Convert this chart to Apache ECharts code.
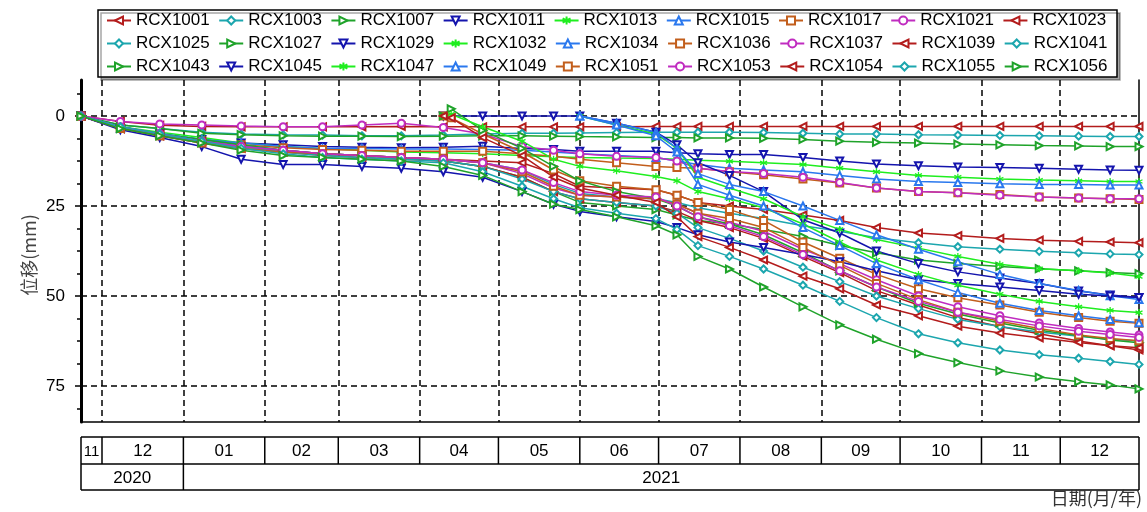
<!DOCTYPE html>
<html><head><meta charset="utf-8">
<script src="https://cdn.jsdelivr.net/npm/echarts@6/dist/echarts.min.js"></script>
<style>html,body{margin:0;padding:0;background:#fff}#c{width:1147px;height:512px}</style>
</head><body><div id="c"></div>
<script>
const _ = null;
const dates = ['2020-11-23','2020-12-08','2020-12-23','2021-01-08','2021-01-23','2021-02-08','2021-02-23','2021-03-10','2021-03-25','2021-04-10',
  '2021-04-13','2021-04-25','2021-05-10','2021-05-22','2021-06-01','2021-06-15','2021-06-30','2021-07-08','2021-07-16','2021-07-28',
  '2021-08-10','2021-08-25','2021-09-08','2021-09-22','2021-10-08','2021-10-23','2021-11-08','2021-11-23','2021-12-08','2021-12-20',
  '2021-12-31'];

const RCX1001 = [0,1.5,2.6,2.9,3,3,3,3,2.9,3, _,3,3,3,3,3,2.9,2.9,2.9,2.9, 2.9,2.9,2.9,2.9,2.9,2.9,2.9,2.9,2.9,2.9, 2.9];
const RCX1003 = [0,2.5,3.5,4.5,5,5.2,5.3,5.5,5.5,5.3, _,5,4.8,4.8,4.7,4.6,4.5,4.5,4.5,4.5, 4.6,4.8,5,5,5.2,5.3,5.4,5.5,5.6,5.7, 5.7];
const RCX1007 = [0,2.5,3.5,4.8,5.2,5.5,5.6,5.6,5.7,5.6, _,5.5,5.5,5.6,5.7,5.8,6,6,6.1,6.1, 6.2,6.5,7,7.3,7.5,7.8,8,8.2,8.3,8.5, 8.5];
const RCX1011 = [0,3.5,5,6.5,7.5,8,8.5,8.7,8.8,8.7, _,8.4,9,9.3,9.8,9.8,9.8,10.2,10.5,10.7, 10.7,11.5,12.5,13.3,13.8,14.2,14.3,14.5,14.8,15, 15.1];
const RCX1013 = [0,3,4.5,6,7.5,8.5,9,9.5,10,10.2, _,10.5,11,11.3,11.5,11.7,11.8,12,12.3,12.6, 13,13.5,14.5,15.5,16.5,17,17.5,17.8,18,18.2, 18.2];
const RCX1015 = [0,3.5,5,6.5,7.5,8.5,9,9,9.2,9.2, _,9.3,9.5,10,10.5,11,11.5,12.5,13.5,14.5, 15,15.5,16.5,17.5,18.2,18.5,18.8,19,19,19.2, 19.2];
const RCX1017 = [0,3.5,5.5,7,8,8.8,9.3,9.5,9.8,9.8, _,9.8,10.5,11.2,12,13,14,14.3,14.5,15.5, 16.3,17.5,18.6,20,21,21.3,21.8,22.5,22.8,23, 23.2];
const RCX1021 = [0,1.5,2.2,2.5,2.8,3,3,2.5,2,3.2, _,5,8.5,9.5,10.5,11.2,11.5,12.5,14.5,15.4, 16,17,18.5,20,21,21.3,22,22.5,22.8,23, 23];
const RCX1023 = [0,3.5,5,7,8.5,9.5,10.5,11,11.5,12, _,12.5,13,16,19.5,20,20.5,22,24,25, 26,27.5,29,31,32.5,33.2,34,34.5,34.8,35, 35.2];
const RCX1025 = [0,3,4.8,6.5,8,9.5,10.5,11,11.5,12, _,13,15,19,21.5,22.5,23,24,25.5,27, 28.5,30.5,32,33.8,35.2,36.3,37,37.6,38,38.3, 38.5];
const RCX1027 = [0,3,5,6.5,8,9.5,10.5,11,11.5,12.5, _,14,17,21,24,25,26,27.5,29,30, 31.5,33.5,36,38,40,41,41.8,42.4,43,43.5, 43.8];
const RCX1029 = [_,_,_,_,_,_,_,_,_,0, _,0,0,0,0,2,4.5,8,13,16.5, 21,28.8,32.5,37.5,41,43.3,45,46.5,48.6,49.7, 50.4];
const RCX1032 = [_,_,_,_,_,_,_,_,_,_, _,_,_,_,0,2.5,5,9,17,20, 23,28,31.5,34.3,36.7,39,41.2,42.4,43,43.6, 44.6];
const RCX1034 = [_,_,_,_,_,_,_,_,_,_, _,_,_,_,0,2,4.5,9,16,19, 21,25,29,33,37,40.5,44,46.5,48.5,49.9, 51];
const RCX1036 = [_,_,_,_,_,_,_,_,_,0, 0.5,5,10,15,18,19.5,20.5,22,24,26, 29,35,39.5,44,48,50.5,52.5,54.5,56,57, 57.6];
const RCX1037 = [0,3.5,5,7,8.5,9.5,10.5,11,11.5,12, _,13,16,20,22,22.5,23,24.5,27,29.5, 32,37,41,45.5,50,53,55.5,57.5,59,60, 60.8];
const RCX1039 = [0,3.5,5.5,7.5,9,10,11,11.5,12,12.5, _,14,17,21,23,24,25,26.5,29,31, 34,39,43.5,48.5,52.5,56,58.5,60.5,62.5,63.8, 65];
const RCX1041 = [0,3,5,7,8.5,10,11,11.5,12,12.5, _,14,17.5,21,23,24,25,27,31,34, 37.5,42,46,50,53.5,56.5,58.5,60,61.2,62, 62.5];
const RCX1043 = [_,_,_,_,_,_,_,_,_,0, -2,4,9,14,18,21,23,25,28,30, 33,38,43,47.5,52,55,57.5,59.5,61,62.2, 63];
const RCX1045 = [0,3.8,6,8.5,12,13.5,13.5,14,14.5,15.5, _,17,21,24.5,26.5,28,29.3,31,33,35, 36.5,38.5,40.5,43,45.5,46.5,47.5,48.5,49.5,50, 50.4];
const RCX1047 = [_,_,_,_,_,_,_,_,_,0, -0.5,3,7,12,14,15.2,16.8,18,21,23, 25.5,30,35,40,44,47,49.5,51.5,53,54, 54.6];
const RCX1049 = [_,_,_,_,_,_,_,_,_,_, _,_,_,_,0,2.5,5.5,10,19,22, 25,31,36,41,45.5,49,52,54,55.5,56.5, 57.4];
const RCX1051 = [0,3.5,5.5,7.5,9,10,10.5,11,11.5,12, _,13,15.5,19.5,22,22.5,23,24.5,27,28.5, 31,36.5,41.5,46.5,51,54.5,57,59,60.8,61.8, 62.4];
const RCX1053 = [0,3,5,7,8.5,9.5,10.5,11,11.5,12, _,13,15,18.5,21,22,22.5,25,28,30.5, 33.5,38.5,43,47.5,51.5,54.5,56.5,58.3,59.8,60.7, 61.5];
const RCX1054 = [_,_,_,_,_,_,_,_,_,0, 0.5,6,11,17,20,22,24,28,33.5,36.5, 40,44.5,48,52.5,55.5,58.4,60.3,61.6,62.9,63.8, 64.4];
const RCX1055 = [0,3,5,7,9,10.5,11.5,12,12.5,13, _,15.5,19.5,23,25.5,27,28.5,31.5,36,39, 42.5,47,51.5,56,60.5,63,65,66.3,67.3,68.2, 69];
const RCX1056 = [0,3.5,5.5,7.5,9.5,11,11.5,12,12.5,14, _,16.5,21,24.5,26,28,30.5,33,39,42.5, 47.5,53,58,62,66,68.5,70.8,72.5,73.8,74.7, 75.8];

const seriesNames = ['RCX1001','RCX1003','RCX1007','RCX1011','RCX1013','RCX1015','RCX1017','RCX1021','RCX1023',
  'RCX1025','RCX1027','RCX1029','RCX1032','RCX1034','RCX1036','RCX1037','RCX1039','RCX1041',
  'RCX1043','RCX1045','RCX1047','RCX1049','RCX1051','RCX1053','RCX1054','RCX1055','RCX1056'];
const seriesValues = [RCX1001,RCX1003,RCX1007,RCX1011,RCX1013,RCX1015,RCX1017,RCX1021,RCX1023,
  RCX1025,RCX1027,RCX1029,RCX1032,RCX1034,RCX1036,RCX1037,RCX1039,RCX1041,
  RCX1043,RCX1045,RCX1047,RCX1049,RCX1051,RCX1053,RCX1054,RCX1055,RCX1056];

const yTickValues = [0, 25, 50, 75];
const yMinorTickValues = [-6.25, 6.25, 12.5, 18.75, 31.25, 37.5, 43.75, 56.25, 62.5, 68.75, 81.25];
const yMin = -10, yMax = 85;
const xStart = '2020-11-23', xEnd = '2021-12-31';
const monthBoundaries = ['2020-12-01','2021-01-01','2021-02-01','2021-03-01','2021-04-01','2021-05-01','2021-06-01',
  '2021-07-01','2021-08-01','2021-09-01','2021-10-01','2021-11-01','2021-12-01'];
const monthLabels = ['11','12','01','02','03','04','05','06','07','08','09','10','11','12'];
const yearLabels = ['2020','2021'];
const yearBoundary = '2021-01-01';

const ASTERISK = 'path://M5,0L5,10M0.7,2.5L9.3,7.5M0.7,7.5L9.3,2.5';
const styles = [
  {color:'#b31c1c', symbol:'emptyTriangle', rotate:90},
  {color:'#1ca6ae', symbol:'emptyDiamond', rotate:0},
  {color:'#1fa32a', symbol:'emptyTriangle', rotate:-90},
  {color:'#1414ad', symbol:'emptyTriangle', rotate:180},
  {color:'#1fee1f', symbol:ASTERISK, rotate:0},
  {color:'#2a78ee', symbol:'emptyTriangle', rotate:0},
  {color:'#c25e1c', symbol:'emptyRect', rotate:0},
  {color:'#c02cc0', symbol:'emptyCircle', rotate:0}
];

function ts(s){ const p = s.split('-').map(Number); return new Date(p[0], p[1]-1, p[2]).getTime(); }

const FONT = 'Liberation Sans, Arial, sans-serif';
const chart = echarts.init(document.getElementById('c'), null, {renderer:'canvas'});

const series = seriesNames.map((name, i) => {
  const st = styles[i % 8];
  return {
    name, type:'line', z:2,
    data: dates.map((d, j) => [ts(d), seriesValues[i][j]]),
    connectNulls:true, showSymbol:true,
    symbol: st.symbol, symbolRotate: st.rotate, symbolSize: 7,
    lineStyle:{color:st.color, width:1.5},
    itemStyle:{color:st.color, borderColor:st.color, borderWidth:1.3},
    emphasis:{disabled:true}
  };
});
series.push({
  type:'line', data:[], silent:true, z:1,
  markLine:{
    silent:true, z:1, symbol:['none','none'], label:{show:false}, animation:false,
    lineStyle:{color:'#000', type:[6,4], width:1.5},
    emphasis:{disabled:true},
    data: monthBoundaries.map(d => ({xAxis: ts(d)})).concat(yTickValues.map(v => ({yAxis: v})))
  }
});

const legends = [0,1,2].map(r => ({
  data: seriesNames.slice(r*9, r*9+9),
  left: 106, top: 12 + r*23, orient:'horizontal', padding:0,
  itemWidth:24, itemHeight:10, itemGap:8.5, selectedMode:false,
  textStyle:{fontSize:17, color:'#000', fontFamily:FONT}
}));

chart.setOption({
  animation:false,
  backgroundColor:'#fff',
  legend: legends,
  grid:{left:81, right:8, top:80, bottom:90, containLabel:false},
  xAxis:{
    type:'time', min: ts(xStart), max: ts(xEnd),
    axisLine:{show:true, onZero:false, lineStyle:{color:'#000', width:1.5}},
    axisTick:{show:false}, axisLabel:{show:false}, splitLine:{show:false}
  },
  yAxis:[
    {type:'value', inverse:true, min:yMin, max:yMax, position:'left',
     axisLine:{show:true, onZero:false, lineStyle:{color:'#000', width:3}},
     axisTick:{show:true, length:6, customValues:yTickValues, lineStyle:{color:'#000', width:1.5}},
     axisLabel:{customValues:yTickValues, fontSize:17, color:'#000', margin:16, fontFamily:FONT},
     splitLine:{show:false}},
    {type:'value', inverse:true, min:yMin, max:yMax, position:'left',
     axisLine:{show:false},
     axisTick:{show:true, length:4, customValues:yMinorTickValues, lineStyle:{color:'#000', width:1.5}},
     axisLabel:{show:false}, splitLine:{show:false}},
    {type:'value', inverse:true, min:yMin, max:yMax, position:'right',
     axisLine:{show:true, onZero:false, lineStyle:{color:'#000', width:1.5}},
     axisTick:{show:false}, axisLabel:{show:false}, splitLine:{show:false}}
  ],
  series
});

// bottom date table, positioned through the x axis scale
const X = s => chart.convertToPixel({xAxisIndex:0}, ts(s));
const bounds = [xStart].concat(monthBoundaries).concat([xEnd]).map(X);
const xL = bounds[0], xR = bounds[bounds.length-1];
const r0 = 437, r1 = 464, r2 = 490;
const lineSt = {stroke:'#000', lineWidth:1.5};
const g = [];
g.push({type:'rect', z:0, shape:{x:98, y:10, width:1019, height:67},
  style:{fill:'#fff', stroke:'#000', lineWidth:1.5, shadowColor:'rgba(0,0,0,0.35)', shadowOffsetX:3, shadowOffsetY:3, shadowBlur:0}});
[r0, r1, r2].forEach(y => g.push({type:'line', shape:{x1:xL, y1:y, x2:xR, y2:y}, style:lineSt}));
g.push({type:'line', shape:{x1:xL, y1:r0, x2:xL, y2:r2}, style:lineSt});
g.push({type:'line', shape:{x1:xR, y1:r0, x2:xR, y2:r2}, style:lineSt});
bounds.slice(1, -1).forEach(x => g.push({type:'line', shape:{x1:x, y1:r0, x2:x, y2:r1}, style:lineSt}));
const xy = X(yearBoundary);
g.push({type:'line', shape:{x1:xy, y1:r1, x2:xy, y2:r2}, style:lineSt});
monthLabels.forEach((t, i) => {
  const cx = (bounds[i] + bounds[i+1]) / 2;
  g.push({type:'text', x:cx, y:(r0+r1)/2 + 1, style:{text:t, fontSize: i === 0 ? 15 : 17, fontFamily:FONT, fill:'#000', align:'center', verticalAlign:'middle'}});
});
g.push({type:'text', x:(xL+xy)/2, y:(r1+r2)/2 + 1, style:{text:yearLabels[0], fontSize:17, fontFamily:FONT, fill:'#000', align:'center', verticalAlign:'middle'}});
g.push({type:'text', x:(xy+xR)/2, y:(r1+r2)/2 + 1, style:{text:yearLabels[1], fontSize:17, fontFamily:FONT, fill:'#000', align:'center', verticalAlign:'middle'}});
g.push({type:'text', x:1142, y:498, style:{text:'日期(月/年)', fontSize:18, fontFamily:'Noto Sans CJK SC, sans-serif', fill:'#333', align:'right', verticalAlign:'middle'}});
g.push({type:'text', x:29, y:255, rotation:Math.PI/2, style:{text:'位移(mm)', fontSize:18, fontFamily:'Noto Sans CJK SC, sans-serif', fill:'#444', align:'center', verticalAlign:'middle'}});
chart.setOption({graphic: g});
</script>
</body></html>
